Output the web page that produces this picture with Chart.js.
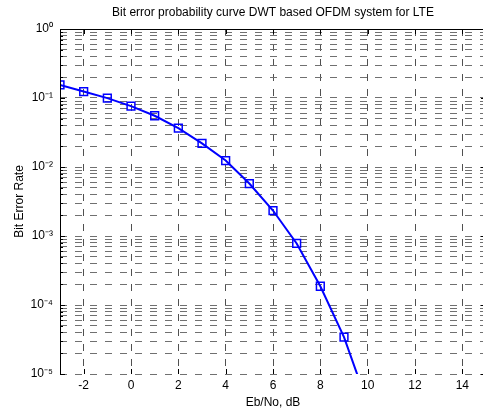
<!DOCTYPE html>
<html>
<head>
<meta charset="utf-8">
<script src="https://cdn.jsdelivr.net/npm/chart.js@4/dist/chart.umd.min.js"></script>
<style>
  html, body { margin: 0; padding: 0; background: #fff; overflow: hidden; }
  #wrap { width: 488px; height: 410px; overflow: hidden; }
  canvas { display: block; }
</style>
</head>
<body>
<div id="wrap"><canvas id="c" width="488" height="410" style="width:488px;height:410px"></canvas></div>
<script>
// ---- data ----
const ebno = [-3, -2, -1, 0, 1, 2, 3, 4, 5, 6, 7, 8, 9, 10];
const ber  = [0.155, 0.124, 0.0996, 0.0764, 0.0553, 0.0367, 0.0220, 0.0124,
              0.00576, 0.00234, 0.00078, 0.000187, 0.0000343, 0.0000037];
const xTicks = [-2, 0, 2, 4, 6, 8, 10, 12, 14];
const yDecades = [1e-5, 1e-4, 1e-3, 1e-2, 1e-1, 1e0];
const supMap = {'-':'\u207B','0':'\u2070','1':'\u00B9','2':'\u00B2','3':'\u00B3','4':'\u2074','5':'\u2075','6':'\u2076','7':'\u2077','8':'\u2078','9':'\u2079'};
const titleText = 'Bit error probability curve DWT based OFDM system for LTE';
const xTitle = 'Eb/No, dB';
const yTitle = 'Bit Error Rate';

const FONT = 'Liberation Sans, Arial, Helvetica, sans-serif';

function isDecade(v) {
  const e = Math.log10(v);
  return Math.abs(e - Math.round(e)) < 1e-9;
}
function supLabel(v) {
  const e = Math.round(Math.log10(v)).toString();
  return '10' + e.split('').map(ch => supMap[ch]).join('');
}

const innerTicks = {
  id: 'innerTicks',
  afterDraw(chart) {
    const {ctx, chartArea: a, scales: {x, y}} = chart;
    ctx.save();
    ctx.strokeStyle = '#000';
    ctx.lineWidth = 1;
    ctx.beginPath();
    ctx.moveTo(Math.round(a.left) + 0.5, Math.round(a.bottom) + 0.5);
    ctx.lineTo(Math.round(a.left) + 0.5, Math.round(a.top) + 0.5);
    ctx.lineTo(Math.round(a.right) + 0.5, Math.round(a.top) + 0.5);
    ctx.lineTo(Math.round(a.right) + 0.5, Math.round(a.bottom) + 0.5);
    ctx.stroke();
    ctx.beginPath();
    x.ticks.forEach(t => {
      const px = Math.round(x.getPixelForValue(t.value)) + 0.5;
      ctx.moveTo(px, a.bottom); ctx.lineTo(px, a.bottom - 5);
      ctx.moveTo(px, a.top); ctx.lineTo(px, a.top + 5);
    });
    y.ticks.forEach(t => {
      const py = Math.round(y.getPixelForValue(t.value)) + 0.5;
      const len = isDecade(t.value) ? 5 : 3;
      ctx.moveTo(a.left, py); ctx.lineTo(a.left + len, py);
      ctx.moveTo(a.right, py); ctx.lineTo(a.right - len, py);
    });
    ctx.stroke();
    ctx.restore();
  }
};

new Chart(document.getElementById('c'), {
  type: 'line',
  data: {
    datasets: [{
      data: ebno.map((v, i) => ({x: v, y: ber[i]})),
      borderColor: '#0000ff',
      borderWidth: 2,
      pointStyle: 'rect',
      pointRadius: 5.5,
      pointBorderWidth: 1.5,
      pointBorderColor: '#0000ff',
      pointBackgroundColor: 'rgba(0,0,0,0)',
      tension: 0,
      fill: false
    }]
  },
  options: {
    responsive: false,
    devicePixelRatio: 1,
    animation: false,
    layout: { autoPadding: false, padding: { left: 0, right: 2, top: 0, bottom: 0 } },
    plugins: {
      legend: { display: false },
      tooltip: { enabled: false },
      title: {
        display: true,
        fullSize: false,
        text: titleText,
        color: '#000',
        font: { family: FONT, size: 12, weight: 'normal' },
        padding: { top: 5, bottom: 9.6 }
      }
    },
    scales: {
      x: {
        type: 'linear',
        min: -3, max: 15,
        afterBuildTicks: s => { s.ticks = xTicks.map(v => ({value: v})); },
        afterFit: s => { s.height = 36; s.paddingLeft = 0; s.paddingRight = 0; },
        ticks: { color: '#000', font: { family: FONT, size: 12 }, padding: 4, maxRotation: 0, autoSkip: false },
        grid: { color: '#505050', lineWidth: 1, drawTicks: false },
        border: { display: false, dash: [7, 8] },
        title: { display: true, text: xTitle, color: '#000', font: { family: FONT, size: 12 }, padding: { top: 0, bottom: 0 } }
      },
      y: {
        type: 'logarithmic',
        min: 1e-5, max: 1,
        afterBuildTicks: s => {
          const t = [];
          yDecades.forEach(d => {
            t.push({value: d});
            if (d < 1) for (let m = 2; m <= 9; m++) t.push({value: d * m});
          });
          s.ticks = t;
        },
        afterFit: s => { s.width = 60; s.paddingTop = 0; s.paddingBottom = 0; },
        ticks: {
          color: '#000', font: { family: FONT, size: 12 }, padding: 7, autoSkip: false,
          callback: v => isDecade(v) ? supLabel(v) : ''
        },
        grid: { color: '#707070', lineWidth: 1, drawTicks: false },
        border: { display: false, dash: [7, 8] },
        title: { display: true, text: yTitle, color: '#000', font: { family: FONT, size: 12 }, padding: { top: 12, bottom: 0 } }
      }
    }
  },
  plugins: [innerTicks]
});
</script>
</body>
</html>
